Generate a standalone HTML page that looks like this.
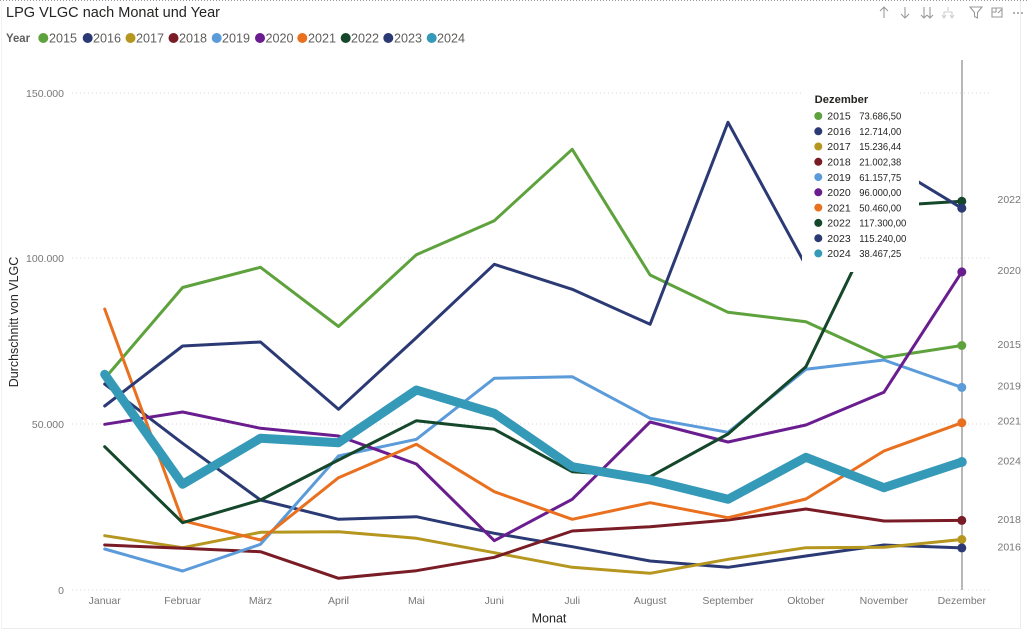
<!DOCTYPE html>
<html><head><meta charset="utf-8"><style>
html,body{margin:0;padding:0;background:#fff;}
svg{display:block;font-family:"Liberation Sans",sans-serif;}
</style></head><body>
<svg width="1029" height="631" viewBox="0 0 1029 631" xmlns="http://www.w3.org/2000/svg">
<rect x="0" y="0" width="1029" height="631" fill="#fff"/>
<!-- frame -->
<line x1="0" y1="0.5" x2="1029" y2="0.5" stroke="#9a9a9a" stroke-width="1" stroke-dasharray="1,2"/>
<line x1="1020.5" y1="1" x2="1020.5" y2="628.5" stroke="#ececec" stroke-width="1"/>
<line x1="1" y1="628.5" x2="1020.5" y2="628.5" stroke="#ececec" stroke-width="1"/>
<line x1="1.5" y1="1" x2="1.5" y2="628.5" stroke="#f2f2f2" stroke-width="1"/>

<!-- title -->
<text x="6" y="17" font-size="15" fill="#252423" textLength="214" lengthAdjust="spacingAndGlyphs">LPG VLGC nach Monat und Year</text>

<!-- header icons -->
<g stroke="#9a9a9a" stroke-width="1.1" fill="none">
 <path d="M884 18 V7 M880 11 L884 7 L888 11"/>
 <path d="M905 7 V18 M901 14 L905 18 L909 14"/>
 <path d="M924 7 V18 M921 15 L924 18 L927 15 M930 7 V18 M927 15 L930 18 L933 15"/>
 <path d="M948 7 V11 M944 18 V12 H952 V18 M942 15 L944 18 L946 15 M950 15 L952 18 L954 15" stroke="#cfcfcf"/>
 <path d="M970 7 H982 L977.5 12.5 V18 L974.5 16.5 V12.5 Z"/>
 <path d="M992 8 H1002 V17 H992 Z M996 8 V12 H992 M998 13 L1002 9"/>
</g>
<g fill="#9a9a9a"><circle cx="1014" cy="13" r="1"/><circle cx="1018" cy="13" r="1"/><circle cx="1022" cy="13" r="1"/></g>

<!-- legend -->
<text x="6" y="42" font-size="12" font-weight="bold" fill="#605E5C" textLength="24" lengthAdjust="spacingAndGlyphs">Year</text>
<g font-size="12.5" fill="#605E5C">
 <circle cx="43.3" cy="38" r="5" fill="#5DA23C"/><text x="49" y="42.5" textLength="28" lengthAdjust="spacingAndGlyphs">2015</text>
 <circle cx="87.7" cy="38" r="5" fill="#2B3A74"/><text x="93" y="42.5" textLength="28" lengthAdjust="spacingAndGlyphs">2016</text>
 <circle cx="130.5" cy="38" r="5" fill="#B5961F"/><text x="136" y="42.5" textLength="28" lengthAdjust="spacingAndGlyphs">2017</text>
 <circle cx="173.5" cy="38" r="5" fill="#7A1C26"/><text x="179" y="42.5" textLength="28" lengthAdjust="spacingAndGlyphs">2018</text>
 <circle cx="216.7" cy="38" r="5" fill="#5B9BD9"/><text x="222" y="42.5" textLength="28" lengthAdjust="spacingAndGlyphs">2019</text>
 <circle cx="260" cy="38" r="5" fill="#6A1D8F"/><text x="265.5" y="42.5" textLength="28" lengthAdjust="spacingAndGlyphs">2020</text>
 <circle cx="302.3" cy="38" r="5" fill="#E8701E"/><text x="308" y="42.5" textLength="28" lengthAdjust="spacingAndGlyphs">2021</text>
 <circle cx="345.7" cy="38" r="5" fill="#15472A"/><text x="351" y="42.5" textLength="28" lengthAdjust="spacingAndGlyphs">2022</text>
 <circle cx="388.3" cy="38" r="5" fill="#2B3A74"/><text x="394" y="42.5" textLength="28" lengthAdjust="spacingAndGlyphs">2023</text>
 <circle cx="431.7" cy="38" r="5" fill="#3599B8"/><text x="437" y="42.5" textLength="28" lengthAdjust="spacingAndGlyphs">2024</text>
</g>

<!-- gridlines -->
<g stroke="#d9d9d9" stroke-width="1" stroke-dasharray="1,3">
 <line x1="72" y1="93" x2="990" y2="93"/>
 <line x1="72" y1="258" x2="990" y2="258"/>
 <line x1="72" y1="424" x2="990" y2="424"/>
 <line x1="72" y1="590" x2="990" y2="590"/>
</g>

<!-- y axis labels -->
<g font-size="10.5" fill="#777" text-anchor="end">
 <text x="64" y="97">150.000</text>
 <text x="64" y="262">100.000</text>
 <text x="64" y="428">50.000</text>
 <text x="64" y="594">0</text>
</g>
<text transform="translate(18,322) rotate(-90)" font-size="12.5" fill="#252423" text-anchor="middle">Durchschnitt von VLGC</text>

<!-- x axis labels -->
<g font-size="10.5" fill="#777" text-anchor="middle">
 <text x="104.7" y="604">Januar</text>
 <text x="182.6" y="604">Februar</text>
 <text x="260.5" y="604">März</text>
 <text x="338.5" y="604">April</text>
 <text x="416.4" y="604">Mai</text>
 <text x="494.3" y="604">Juni</text>
 <text x="572.2" y="604">Juli</text>
 <text x="650.1" y="604">August</text>
 <text x="728" y="604">September</text>
 <text x="805.9" y="604">Oktober</text>
 <text x="883.9" y="604">November</text>
 <text x="961.8" y="604">Dezember</text>
</g>
<text x="549" y="622.5" font-size="12.5" fill="#252423" text-anchor="middle">Monat</text>

<!-- crosshair -->
<line x1="962" y1="60" x2="962" y2="590" stroke="#a0a0a0" stroke-width="1.5"/>

<!-- series -->
<g fill="none" stroke-width="3" stroke-linejoin="round" stroke-linecap="round">
 <polyline stroke="#5DA23C" points="104.7,378.5 182.6,287.5 260.5,267.3 338.5,326.5 416.4,254.7 494.3,220.7 572.2,149.3 650.1,275 728,312.3 805.9,321.7 883.9,357.5 961.8,345.5"/>
 <polyline stroke="#2B3A74" points="104.7,384 182.6,443.3 260.5,500 338.5,519.3 416.4,516.7 494.3,533.3 572.2,546.7 650.1,561 728,567.3 805.9,556 883.9,545 961.8,547.9"/>
 <polyline stroke="#B5961F" points="104.7,535.7 182.6,547.7 260.5,532.3 338.5,531.7 416.4,538.3 494.3,552.7 572.2,567.3 650.1,573.3 728,559.3 805.9,547.7 883.9,547.3 961.8,539.5"/>
 <polyline stroke="#7A1C26" points="104.7,545 182.6,548.3 260.5,551.7 338.5,578.3 416.4,570.7 494.3,557.3 572.2,531 650.1,526.7 728,520 805.9,509 883.9,521 961.8,520.4"/>
 <polyline stroke="#5B9BD9" points="104.7,549 182.6,571 260.5,544.3 338.5,456 416.4,439.3 494.3,378.3 572.2,376.7 650.1,418.3 728,432.3 805.9,369.3 883.9,360 961.8,387.4"/>
 <polyline stroke="#6A1D8F" points="104.7,424.3 182.6,412 260.5,428.3 338.5,436 416.4,464 494.3,540.7 572.2,499.3 650.1,422 728,442 805.9,425 883.9,392.3 961.8,271.9"/>
 <polyline stroke="#E8701E" points="104.7,309 182.6,520.7 260.5,540 338.5,477.7 416.4,444.3 494.3,491.7 572.2,519.3 650.1,502.7 728,517.7 805.9,499 883.9,451 961.8,422.8"/>
 <polyline stroke="#15472A" points="104.7,446.7 182.6,522.7 260.5,500 338.5,460 416.4,420.7 494.3,429.3 572.2,471.7 650.1,476.7 728,434 805.9,366.7 883.9,206 961.8,201.3"/>
 <polyline stroke="#2B3A74" points="104.7,406 182.6,346 260.5,342 338.5,409.3 416.4,337.6 494.3,264.3 572.2,289.3 650.1,324.3 728,122.3 805.9,265.6 883.9,161 961.8,208.2"/>
 <polyline stroke="#3599B8" stroke-width="9" points="104.7,374.3 182.6,484.3 260.5,438.3 338.5,442.7 416.4,390 494.3,413.3 572.2,466.7 650.1,480 728,499.3 805.9,457.3 883.9,487.7 961.8,462"/>
</g>

<!-- end dots -->
<g>
 <circle cx="961.8" cy="345.5" r="4.5" fill="#5DA23C"/>
 <circle cx="961.8" cy="539.5" r="4.5" fill="#B5961F"/>
 <circle cx="961.8" cy="547.9" r="4.5" fill="#2B3A74"/>
 <circle cx="961.8" cy="520.4" r="4.5" fill="#7A1C26"/>
 <circle cx="961.8" cy="387.4" r="4.5" fill="#5B9BD9"/>
 <circle cx="961.8" cy="271.9" r="4.5" fill="#6A1D8F"/>
 <circle cx="961.8" cy="422.8" r="4.5" fill="#E8701E"/>
 <circle cx="961.8" cy="201.3" r="4.5" fill="#15472A"/>
 <circle cx="961.8" cy="208.2" r="4.5" fill="#2B3A74"/>
 <circle cx="961.8" cy="462" r="5" fill="#3599B8"/>
</g>

<!-- right labels -->
<g font-size="10.5" fill="#777">
 <text x="997.5" y="203">2022</text>
 <text x="997.5" y="274">2020</text>
 <text x="997.5" y="348">2015</text>
 <text x="997.5" y="389.5">2019</text>
 <text x="997.5" y="424.5">2021</text>
 <text x="997.5" y="464.5">2024</text>
 <text x="997.5" y="523">2018</text>
 <text x="997.5" y="550.5">2016</text>
</g>

<!-- tooltip -->
<rect x="802" y="84" width="117" height="188" fill="#fff"/>
<text x="814.7" y="103" font-size="11" font-weight="bold" fill="#252423" textLength="53.5" lengthAdjust="spacingAndGlyphs">Dezember</text>
<g font-size="10.5" fill="#252423">
 <circle cx="818.3" cy="116" r="4" fill="#5DA23C"/><text x="827.3" y="119.7">2015</text><text x="859.3" y="119.7" textLength="42" lengthAdjust="spacingAndGlyphs">73.686,50</text>
 <circle cx="818.3" cy="131.3" r="4" fill="#2B3A74"/><text x="827.3" y="135">2016</text><text x="859.3" y="135" textLength="42" lengthAdjust="spacingAndGlyphs">12.714,00</text>
 <circle cx="818.3" cy="146.5" r="4" fill="#B5961F"/><text x="827.3" y="150.2">2017</text><text x="859.3" y="150.2" textLength="42" lengthAdjust="spacingAndGlyphs">15.236,44</text>
 <circle cx="818.3" cy="161.8" r="4" fill="#7A1C26"/><text x="827.3" y="165.5">2018</text><text x="859.3" y="165.5" textLength="42" lengthAdjust="spacingAndGlyphs">21.002,38</text>
 <circle cx="818.3" cy="177.1" r="4" fill="#5B9BD9"/><text x="827.3" y="180.8">2019</text><text x="859.3" y="180.8" textLength="42" lengthAdjust="spacingAndGlyphs">61.157,75</text>
 <circle cx="818.3" cy="192.3" r="4" fill="#6A1D8F"/><text x="827.3" y="196">2020</text><text x="859.3" y="196" textLength="42" lengthAdjust="spacingAndGlyphs">96.000,00</text>
 <circle cx="818.3" cy="207.6" r="4" fill="#E8701E"/><text x="827.3" y="211.3">2021</text><text x="859.3" y="211.3" textLength="42" lengthAdjust="spacingAndGlyphs">50.460,00</text>
 <circle cx="818.3" cy="222.9" r="4" fill="#15472A"/><text x="827.3" y="226.6">2022</text><text x="859.3" y="226.6" textLength="47" lengthAdjust="spacingAndGlyphs">117.300,00</text>
 <circle cx="818.3" cy="238.2" r="4" fill="#2B3A74"/><text x="827.3" y="241.9">2023</text><text x="859.3" y="241.9" textLength="47" lengthAdjust="spacingAndGlyphs">115.240,00</text>
 <circle cx="818.3" cy="253.4" r="4" fill="#3599B8"/><text x="827.3" y="257.1">2024</text><text x="859.3" y="257.1" textLength="42" lengthAdjust="spacingAndGlyphs">38.467,25</text>
</g>
</svg>
</body></html>
